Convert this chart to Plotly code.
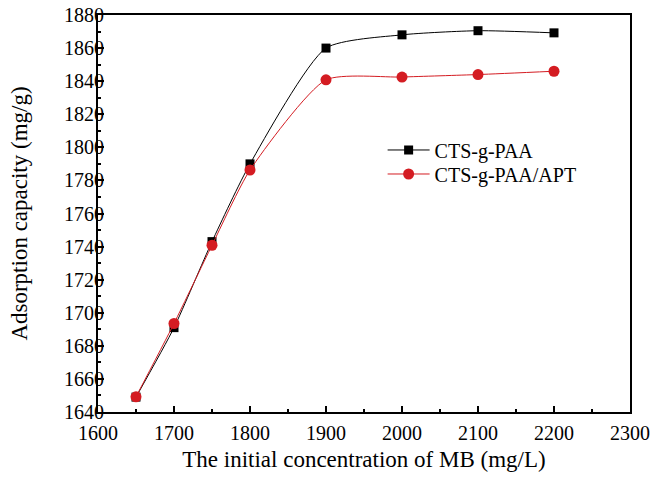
import plotly.graph_objects as go

# Initial MB concentration (mg/L)
conc = [1650, 1700, 1750, 1800, 1900, 2000, 2100, 2200]

# Adsorption capacity (mg/g) for each adsorbent
cts_paa = [1649, 1691, 1743, 1790, 1860, 1868, 1870.5, 1869.2]
cts_paa_apt = [1649.2, 1693.5, 1740.8, 1786.3, 1840.8, 1842.5, 1844, 1846]

x_ticks = [1600, 1700, 1800, 1900, 2000, 2100, 2200, 2300]
y_ticks = list(range(1640, 1881, 20))

FONT = "Liberation Serif"
RED = "#d41c22"

fig = go.Figure()
fig.add_trace(go.Scatter(
    x=conc, y=cts_paa, name="CTS-g-PAA", mode="lines+markers",
    line=dict(color="black", width=1, shape="spline", smoothing=0.6),
    marker=dict(symbol="square", size=9, color="black"),
    legend="legend2",
))
fig.add_trace(go.Scatter(
    x=conc, y=cts_paa_apt, name="CTS-g-PAA/APT", mode="lines+markers",
    line=dict(color=RED, width=1, shape="spline", smoothing=0.6),
    marker=dict(symbol="circle", size=11, color=RED),
    legend="legend3",
))

axis_common = dict(
    showline=True, linecolor="black", linewidth=2, mirror=True,
    ticks="inside", ticklen=6, tickwidth=1.5, tickcolor="black",
    showgrid=False, zeroline=False,
    tickfont=dict(family=FONT, size=20, color="black"),
)

fig.update_xaxes(
    range=[1600, 2300], tickvals=x_ticks,
    minor=dict(ticks="inside", ticklen=3, dtick=50, tick0=1600, tickcolor="black"),
    ticklabelstandoff=2,
    title=dict(text="The initial concentration of MB (mg/L)",
               font=dict(family=FONT, size=23, color="black"), standoff=8),
    **axis_common,
)
fig.update_yaxes(
    range=[1640, 1880], tickvals=y_ticks,
    minor=dict(ticks="inside", ticklen=3, dtick=10, tick0=1640, tickcolor="black"),
    ticklabelstandoff=-12,
    title=dict(text="Adsorption capacity (mg/g)",
               font=dict(family=FONT, size=23, color="black"), standoff=30),
    **axis_common,
)

legend_common = dict(
    xanchor="left", yanchor="middle", bgcolor="rgba(0,0,0,0)",
    font=dict(family=FONT, size=20, color="black"), itemwidth=42,
)

fig.update_layout(
    width=654, height=481,
    margin=dict(l=98, r=24, t=15, b=69, autoexpand=False),
    plot_bgcolor="white", paper_bgcolor="white",
    font=dict(family=FONT, color="black"),
    legend2=dict(x=0.535, y=0.660, **legend_common),
    legend3=dict(x=0.535, y=0.5995, **legend_common),
)

fig.write_html("out.html")
